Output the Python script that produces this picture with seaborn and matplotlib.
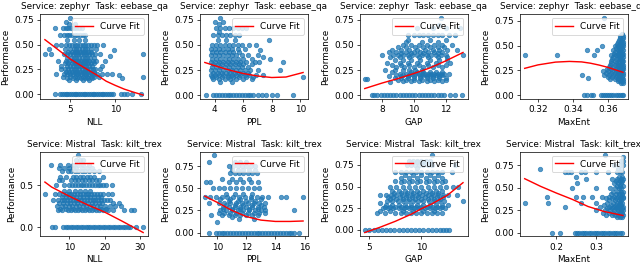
import matplotlib
matplotlib.use("Agg")
import matplotlib.pyplot as plt
from matplotlib.ticker import MaxNLocator
import seaborn as sns
import pandas as pd

services = ["zephyr", "zephyr", "zephyr", "zephyr", "Mistral", "Mistral", "Mistral", "Mistral"]
tasks = ["eebase_qa"] * 4 + ["kilt_trex"] * 4
metrics = ["NLL", "PPL", "GAP", "MaxEnt", "NLL", "PPL", "GAP", "MaxEnt"]

# performance level -> metric values
zephyr_nll = {
    0.0: [3.3, 3.9, 4.1, 4.3, 4.5, 4.7, 4.9, 5.1, 5.3, 5.5, 5.7, 5.9, 6.1, 6.3, 6.5, 6.7, 6.9, 7.1, 7.3, 7.5,
          7.7, 7.9, 8.1, 8.3, 8.5, 8.7, 8.9, 9.1, 9.3, 9.5, 9.8, 10.6, 11.0, 11.3, 11.9, 12.9],
    0.14: [4.9, 5.6, 6.4, 7.1],
    0.16: [4.6, 5.3, 5.8, 6.2, 6.6, 7.0, 7.4, 10.8],
    0.17: [4.2, 5.0, 5.5, 6.0, 6.4, 6.9, 7.3, 7.7, 8.2, 13.1],
    0.19: [10.4],
    0.2: [3.4, 4.3, 4.7, 5.0, 5.3, 5.6, 5.9, 6.2, 6.5, 6.8, 7.1, 7.4, 7.7, 8.0, 8.5, 9.1, 9.6],
    0.22: [4.5, 4.9, 5.2, 5.5, 5.8, 6.1, 6.4, 6.7, 7.0, 7.3, 7.6],
    0.25: [4.0, 4.4, 4.8, 5.1, 5.4, 5.7, 6.0, 6.3, 6.6, 6.9, 7.2, 7.5, 7.8, 8.3],
    0.28: [4.0, 4.6, 5.0, 5.3, 5.6, 5.9, 6.2, 6.5, 6.8, 7.1, 7.4, 8.5],
    0.31: [4.4, 4.8, 5.2, 5.5, 5.8, 6.1, 6.4, 6.7, 7.0, 7.3, 7.6],
    0.33: [3.6, 4.5, 4.9, 5.3, 5.6, 5.9, 6.2, 6.5, 6.8, 7.1, 7.5, 7.9, 8.9],
    0.36: [4.7, 5.1, 5.4, 5.7, 6.0, 6.3, 6.6, 6.9, 7.2, 7.6],
    0.38: [9.4],
    0.4: [2.2, 2.9, 4.3, 4.6, 5.0, 5.3, 5.6, 5.9, 6.2, 6.5, 6.8, 7.1, 7.4, 7.8, 8.3, 13.1],
    0.43: [4.8, 5.2, 5.5, 5.8, 6.1, 6.4, 6.7, 7.0, 7.3],
    0.45: [9.9],
    0.46: [2.6, 4.4, 5.0, 5.4, 5.7, 6.0, 6.3, 6.6, 6.9, 7.3, 7.9],
    0.5: [3.4, 4.0, 4.5, 4.9, 5.2, 5.5, 5.8, 6.1, 6.4, 6.7, 7.0, 7.3, 7.6, 8.0, 8.6],
    0.55: [4.7, 5.4, 6.0, 6.6],
    0.6: [3.9, 4.3, 4.6, 4.9, 5.2, 5.5, 5.8, 6.1, 6.4, 6.7],
    0.67: [3.3, 4.2, 4.5, 4.8, 5.1, 5.4, 5.7, 6.0, 6.3],
    0.71: [4.9, 5.5],
    0.73: [4.5],
    0.77: [5.0],
}
zephyr_ppl = {
    0.0: [3.4, 3.9, 4.1, 4.3, 4.5, 4.7, 4.9, 5.1, 5.3, 5.5, 5.7, 5.9, 6.1, 6.3, 6.5, 6.7, 7.0, 7.3, 7.6,
          8.0, 8.4, 9.5],
    0.13: [4.4, 5.2],
    0.16: [3.9, 4.3, 4.7, 5.1, 5.5, 6.0, 6.6],
    0.18: [3.8, 4.1, 4.5, 4.9, 5.3, 5.7, 6.2, 6.7, 10.2],
    0.2: [3.7, 4.0, 4.3, 4.6, 4.9, 5.2, 5.5, 5.8, 6.1, 6.4, 6.9, 7.4],
    0.22: [3.9, 4.2, 4.5, 4.8, 5.1, 5.4, 5.7, 6.0, 6.3],
    0.25: [3.7, 4.0, 4.3, 4.6, 4.9, 5.2, 5.5, 5.8, 6.1, 6.5, 7.0, 8.6],
    0.28: [3.8, 4.1, 4.4, 4.7, 5.0, 5.3, 5.6, 5.9, 6.3],
    0.31: [3.9, 4.2, 4.5, 4.8, 5.1, 5.4, 5.7, 6.0, 6.6],
    0.33: [3.7, 4.0, 4.3, 4.6, 4.9, 5.2, 5.5, 5.8, 6.2, 6.8, 7.1, 8.8],
    0.36: [3.8, 4.1, 4.4, 4.7, 5.0, 5.3, 5.6, 6.0, 6.6, 7.9],
    0.38: [7.4],
    0.4: [3.7, 4.0, 4.3, 4.6, 4.9, 5.2, 5.5, 5.9, 6.3, 7.0],
    0.43: [3.8, 4.1, 4.4, 4.7, 5.0, 5.3, 5.7],
    0.45: [7.15],
    0.46: [3.7, 4.0, 4.3, 4.6, 4.9, 5.2, 5.6, 6.1],
    0.5: [3.8, 4.1, 4.4, 4.7, 5.0, 5.3, 5.6, 5.9, 6.4, 6.9],
    0.55: [4.2, 4.8, 5.4, 7.8],
    0.6: [3.9, 4.2, 4.5, 4.8, 5.1, 5.4, 5.7],
    0.63: [4.3],
    0.67: [4.1, 4.4, 4.7, 5.0, 5.3, 5.6, 5.9, 6.2],
    0.71: [4.3],
    0.73: [4.0, 4.6],
    0.77: [4.4],
}
zephyr_gap = {
    0.0: [7.35, 7.5, 7.7, 7.9, 8.1, 8.3, 8.5, 8.7, 8.9, 9.1, 9.3, 9.5, 9.7, 9.9, 10.1, 10.3, 10.5, 10.7,
          10.9, 11.1, 11.3, 11.5, 11.7, 11.9, 12.3, 12.6, 13.05],
    0.13: [8.5],
    0.14: [9.3, 9.8, 10.3, 10.8, 11.3, 11.8],
    0.15: [9.0, 9.5, 10.0, 10.5, 11.0, 11.5, 12.0],
    0.16: [6.9, 7.05],
    0.17: [8.8, 9.2, 9.6, 10.0, 10.4, 10.8, 11.2, 11.6, 12.0],
    0.19: [8.4, 9.2, 9.6, 10.0, 10.4, 10.8, 11.2, 11.6],
    0.2: [8.9, 9.3, 9.7, 10.6, 11.0, 11.4, 11.8],
    0.21: [9.1, 9.5, 9.9, 10.1, 10.3, 10.5, 10.7, 10.9, 11.1, 11.3, 11.5, 11.7, 11.9, 12.2],
    0.23: [8.6, 9.8, 10.2, 10.6, 11.0, 11.4, 11.8],
    0.25: [8.2, 8.8, 9.3, 9.7, 10.1, 10.5],
    0.28: [8.9, 9.4, 10.0, 10.6, 11.2, 11.8],
    0.3: [8.6, 9.2, 9.7, 10.3, 10.9, 11.5, 12.0],
    0.32: [8.3, 9.1, 9.6, 10.2, 10.8, 11.4, 12.3],
    0.35: [8.8, 9.3, 9.8, 10.4, 11.0, 11.6, 12.1],
    0.38: [8.5, 9.1, 9.7, 10.3, 10.9, 11.5, 12.1],
    0.4: [8.0, 8.7, 9.0, 9.3, 9.6, 9.9, 10.2, 10.5, 10.8, 11.1, 11.4, 11.7, 12.0, 13.1],
    0.42: [9.2, 9.8, 10.6, 11.5],
    0.43: [8.4, 8.9, 9.5, 10.0, 10.4, 10.9, 11.3, 11.8],
    0.45: [8.6, 9.2, 9.7, 10.2, 10.7, 11.2, 11.6, 12.1, 12.7],
    0.48: [9.0, 9.5, 10.1, 10.6, 11.0, 11.5, 11.9],
    0.5: [9.3, 9.8, 10.3, 10.8, 11.3, 11.8, 12.4],
    0.53: [9.5, 10.5, 11.5],
    0.55: [9.6, 11.0, 12.0],
    0.6: [9.6, 10.0, 10.3, 10.6, 10.9, 11.2, 11.5, 11.8, 12.2, 12.6],
    0.67: [10.2, 11.2, 12.0, 12.9],
    0.7: [11.6],
    0.77: [11.7],
}
zephyr_maxent = {
    0.0: [0.3463, 0.3481, 0.3506, 0.3517, 0.3560, 0.3572, 0.3584, 0.3596, 0.3608, 0.3620, 0.3632,
          0.3644, 0.3656, 0.3668, 0.3680, 0.3686],
    0.12: [0.3675, 0.3686],
    0.14: [0.3655, 0.3670, 0.3684],
    0.16: [0.3610, 0.3640, 0.3660, 0.3675, 0.3686],
    0.17: [0.3488],
    0.18: [0.3600, 0.3625, 0.3648, 0.3666, 0.3680],
    0.2: [0.3449, 0.3578, 0.3605, 0.3630, 0.3652, 0.3670, 0.3684],
    0.22: [0.3590, 0.3615, 0.3640, 0.3660, 0.3676, 0.3686],
    0.24: [0.3570, 0.3600, 0.3625, 0.3648, 0.3666, 0.3681],
    0.26: [0.3595, 0.3620, 0.3645, 0.3663, 0.3678, 0.3686],
    0.28: [0.3605, 0.3632, 0.3655, 0.3672, 0.3685],
    0.3: [0.3610, 0.3638, 0.3660, 0.3676, 0.3686],
    0.32: [0.3620, 0.3645, 0.3665, 0.3680],
    0.34: [0.3615, 0.3640, 0.3662, 0.3678, 0.3686],
    0.36: [0.3625, 0.3650, 0.3668, 0.3682],
    0.38: [0.3630, 0.3655, 0.3672, 0.3686],
    0.4: [0.3124, 0.3308, 0.3520, 0.3620, 0.3645, 0.3665, 0.3680],
    0.42: [0.3635, 0.3658, 0.3675, 0.3686],
    0.44: [0.3640, 0.3662, 0.3678],
    0.46: [0.3481, 0.3535, 0.3630, 0.3655, 0.3672, 0.3686],
    0.48: [0.3645, 0.3666, 0.3682],
    0.5: [0.3565, 0.3640, 0.3660, 0.3676, 0.3686],
    0.52: [0.3650, 0.3670, 0.3684],
    0.54: [0.3655, 0.3675, 0.3686],
    0.56: [0.3662, 0.3680],
    0.58: [0.3668, 0.3684],
    0.6: [0.3672, 0.3686],
    0.62: [0.3680],
    0.78: [0.3575],
}
mistral_nll = {
    0.0: [5.0, 5.9, 8.3, 9.0, 9.7, 10.4, 11.1, 11.8, 12.5, 13.2, 13.9, 14.6, 15.3, 16.0, 16.7, 17.4, 18.1,
          18.8, 19.5, 20.2, 20.9, 21.6, 22.3, 23.0, 23.7, 24.4, 25.1, 25.8, 26.5, 27.2, 29.0, 30.9],
    0.2: [6.9, 8.0, 9.5, 10.5, 11.5, 12.5, 13.5, 14.5, 15.5, 16.5, 17.5, 18.5, 19.5, 21.0, 22.5, 25.5,
          27.5, 28.3],
    0.22: [7.5, 9.0, 11.0, 13.0, 15.0, 17.0, 19.0, 20.5],
    0.25: [6.5, 7.8, 8.8, 9.8, 10.8, 11.8, 12.8, 13.8, 14.8, 15.8, 16.8, 17.8, 18.8, 20.0, 21.5, 23.0, 24.5],
    0.29: [7.0, 8.3, 9.3, 10.3, 11.3, 12.3, 13.3, 14.3, 15.3, 16.3, 17.3, 18.3, 19.3, 22.3, 24.0],
    0.33: [5.5, 6.8, 7.8, 8.6, 9.4, 10.2, 11.0, 11.8, 12.6, 13.4, 14.2, 15.0, 15.8, 16.6, 17.4, 18.2,
           19.0, 19.8, 20.6, 21.5],
    0.36: [8.0, 9.0, 10.0, 11.0, 12.0, 13.0, 14.0, 15.0, 16.0, 17.0, 18.0, 19.0],
    0.4: [3.1, 6.0, 7.2, 8.2, 9.0, 9.8, 10.6, 11.4, 12.2, 13.0, 13.8, 14.6, 15.4, 16.2, 17.0, 17.8, 18.6,
          19.4, 20.9, 22.0],
    0.43: [8.5, 10.0, 11.5, 13.0, 14.5, 16.0],
    0.5: [6.3, 8.5, 10.0, 10.8, 11.6, 12.4, 13.2, 14.0, 14.8, 15.6, 16.4, 17.2, 18.0, 18.8, 19.6, 20.5, 22.0],
    0.57: [7.0, 8.0, 10.5, 11.5, 12.5, 13.5, 14.5, 15.5, 16.5, 17.5, 18.5],
    0.6: [7.5, 9.0, 11.0, 12.0, 13.0, 14.0, 15.0, 16.0, 17.0, 19.5],
    0.67: [8.0, 9.5, 10.5, 11.5, 12.5, 13.5, 14.5, 15.5, 17.0, 18.5],
    0.71: [7.0, 8.5, 10.0, 11.0, 12.0, 13.5, 15.0, 16.5],
    0.75: [4.7, 7.5, 9.5, 11.0, 12.5, 14.0, 15.5],
    0.8: [12.0, 13.0, 14.0],
    0.86: [12.5],
}
mistral_ppl = {
    0.0: [9.45, 9.9, 10.1, 10.3, 10.5, 10.7, 10.9, 11.1, 11.3, 11.5, 11.7, 11.9, 12.1, 12.3, 12.5, 12.7,
          12.9, 13.1, 13.3, 13.5, 13.7, 13.9, 14.1, 14.3, 14.5, 14.7, 14.9, 15.1, 15.3, 15.6],
    0.12: [10.0],
    0.15: [11.5, 12.5],
    0.17: [11.0],
    0.2: [9.6, 10.3, 10.8, 11.2, 11.6, 12.0, 12.4, 12.8],
    0.22: [10.1, 10.5, 10.9, 11.3, 11.7, 12.1, 12.5, 12.9, 13.3],
    0.25: [10.2, 10.6, 11.0, 11.4, 11.8, 12.2, 12.6, 13.0, 13.3, 15.3],
    0.27: [10.4, 11.0, 11.6, 12.2, 12.8],
    0.29: [10.4, 10.8, 11.2, 11.6, 12.0, 12.4, 12.8, 13.2],
    0.31: [10.6, 11.2, 11.8, 12.4, 13.0],
    0.33: [9.45, 10.1, 10.5, 10.9, 11.3, 11.7, 12.1, 12.5, 12.9, 13.3],
    0.36: [10.8, 11.4, 12.0, 12.6],
    0.38: [10.2, 10.9, 11.6, 12.3, 13.0],
    0.4: [9.15, 9.5, 9.9, 10.3, 10.7, 11.1, 11.5, 11.9, 12.3, 12.7, 13.1, 13.5, 14.4, 14.7, 15.9],
    0.43: [10.6, 11.2, 11.8, 12.4],
    0.5: [9.7, 10.1, 10.5, 10.9, 11.3, 11.7, 12.1, 12.5, 12.9],
    0.57: [9.2, 9.5, 10.8, 11.3, 11.8, 12.3, 12.8],
    0.6: [10.3, 11.0, 11.6, 12.2],
    0.67: [10.9, 11.2, 11.5, 11.8, 12.1, 12.4, 12.7],
    0.71: [11.0, 11.4, 11.8, 12.2, 12.6],
    0.75: [10.8, 11.1, 11.4, 11.7, 12.0, 12.3, 12.6],
    0.8: [9.45, 11.2, 11.6, 12.0],
    0.87: [9.8],
}
mistral_gap = {
    0.0: [4.55, 5.0, 5.4, 5.8, 6.2, 6.6, 7.0, 7.4, 7.8, 8.2, 8.6, 9.0, 9.4, 9.8, 10.2, 10.6, 11.0, 11.4,
          11.8, 12.1, 12.4, 12.7],
    0.2: [5.75, 6.5, 7.5, 8.0, 8.5, 9.0, 9.5, 10.0, 10.5, 11.0, 11.5, 12.0],
    0.22: [6.0, 7.0, 8.2, 9.2, 10.2, 11.2],
    0.25: [6.3, 6.8, 7.3, 7.8, 8.3, 8.8, 9.3, 9.8, 10.3, 10.8, 11.3, 11.8, 12.3],
    0.27: [6.5, 7.0, 7.5, 8.0, 8.5, 9.0, 9.5, 10.0, 10.5, 11.0, 11.5, 12.0],
    0.29: [6.6, 7.2, 7.8, 8.4, 9.0, 9.6, 10.2, 10.8, 11.4, 12.0, 12.6],
    0.31: [5.97],
    0.33: [6.7, 7.2, 7.7, 8.2, 8.7, 9.2, 9.7, 10.2, 10.7, 11.2, 11.7, 12.2, 14.0],
    0.36: [7.0, 7.6, 8.2, 8.8, 9.4, 10.0, 10.6, 11.2, 11.8],
    0.38: [6.8, 7.3, 7.9, 8.5, 9.1, 9.7, 10.3, 10.9, 11.5, 12.1],
    0.4: [5.97, 6.6, 7.1, 7.6, 8.1, 8.6, 9.1, 9.6, 10.1, 10.6, 11.1, 11.6, 12.1, 12.6, 13.4],
    0.43: [7.4, 8.0, 8.6, 9.2, 9.8, 10.4, 11.0, 11.6],
    0.45: [7.2, 7.8, 8.4, 9.0, 9.6, 10.2, 10.8, 11.4, 12.0],
    0.5: [7.0, 7.6, 8.2, 8.8, 9.4, 10.0, 10.6, 11.2, 11.8, 12.4, 13.0, 13.5],
    0.55: [8.0, 8.8, 9.6, 10.4, 11.2, 12.0],
    0.57: [7.5, 8.3, 9.1, 9.9, 10.7, 11.5, 12.3],
    0.6: [8.0, 8.8, 9.6, 10.4, 11.2, 12.0],
    0.63: [8.4, 9.2, 10.0, 10.8, 11.6],
    0.67: [7.5, 8.0, 8.5, 9.0, 9.5, 10.0, 10.5, 11.0, 11.5, 12.0, 12.9],
    0.71: [9.6],
    0.75: [8.6, 9.0, 9.4, 9.8, 10.2, 10.6, 11.0, 13.2],
    0.78: [9.0, 9.6, 10.2],
    0.8: [8.8, 9.2, 9.6, 10.0, 10.4, 10.8],
    0.86: [11.0],
}
mistral_maxent = {
    0.0: [0.188, 0.210, 0.246, 0.252, 0.258, 0.264, 0.270, 0.276, 0.282, 0.288, 0.294, 0.300, 0.306,
          0.312, 0.318, 0.324, 0.330, 0.336, 0.342, 0.348, 0.354, 0.360, 0.366],
    0.17: [0.352, 0.360, 0.366],
    0.2: [0.325, 0.340, 0.348, 0.356, 0.362, 0.367],
    0.22: [0.318, 0.332, 0.344, 0.353, 0.360, 0.366],
    0.25: [0.300, 0.322, 0.336, 0.346, 0.355, 0.362, 0.367],
    0.27: [0.328, 0.341, 0.351, 0.359, 0.365],
    0.29: [0.222, 0.310, 0.332, 0.345, 0.354, 0.361, 0.367],
    0.31: [0.320, 0.338, 0.350, 0.358, 0.364],
    0.33: [0.120, 0.180, 0.262, 0.300, 0.328, 0.342, 0.352, 0.360, 0.366],
    0.36: [0.334, 0.347, 0.357, 0.364],
    0.38: [0.326, 0.340, 0.351, 0.360, 0.367],
    0.4: [0.176, 0.250, 0.268, 0.290, 0.315, 0.332, 0.345, 0.355, 0.362, 0.367],
    0.43: [0.338, 0.350, 0.359, 0.366],
    0.45: [0.344, 0.355, 0.362, 0.367],
    0.5: [0.240, 0.300, 0.335, 0.348, 0.357, 0.364],
    0.52: [0.352, 0.361, 0.367],
    0.55: [0.252, 0.345, 0.356, 0.363],
    0.57: [0.350, 0.360, 0.366],
    0.6: [0.276, 0.340, 0.354, 0.362, 0.367],
    0.62: [0.250, 0.358, 0.365],
    0.67: [0.222, 0.230, 0.238, 0.262, 0.272, 0.300, 0.330, 0.352, 0.360, 0.366],
    0.71: [0.158, 0.356, 0.363],
    0.75: [0.345, 0.360, 0.367],
    0.8: [0.362, 0.367],
    0.84: [0.367],
    0.86: [0.324],
}

# fitted curves
zephyr_nll_fit_x = [2.2, 3.5, 5.0, 6.5, 8.0, 9.0, 10.0, 11.0, 12.0, 13.1]
zephyr_nll_fit_y = [0.55, 0.46, 0.355, 0.27, 0.19, 0.13, 0.088, 0.05, 0.02, -0.01]
zephyr_ppl_fit_x = [3.3, 4.0, 5.0, 6.0, 7.0, 8.0, 9.0, 10.2]
zephyr_ppl_fit_y = [0.325, 0.293, 0.25, 0.215, 0.19, 0.175, 0.18, 0.225]
zephyr_gap_fit_x = [6.9, 8.0, 9.0, 10.0, 11.0, 12.0, 13.1]
zephyr_gap_fit_y = [0.065, 0.12, 0.165, 0.215, 0.27, 0.34, 0.425]
zephyr_maxent_fit_x = [0.3124, 0.32, 0.33, 0.338, 0.345, 0.35, 0.355, 0.36, 0.3686]
zephyr_maxent_fit_y = [0.27, 0.305, 0.333, 0.34, 0.335, 0.322, 0.303, 0.28, 0.23]
mistral_nll_fit_x = [3.1, 5.0, 10.0, 15.0, 20.0, 25.0, 30.9]
mistral_nll_fit_y = [0.54, 0.48, 0.37, 0.27, 0.18, 0.07, -0.065]
mistral_ppl_fit_x = [9.15, 10.0, 11.0, 12.0, 13.0, 14.0, 15.0, 15.9]
mistral_ppl_fit_y = [0.41, 0.34, 0.25, 0.18, 0.14, 0.125, 0.125, 0.13]
mistral_gap_fit_x = [4.55, 6.0, 7.5, 9.0, 10.0, 11.0, 12.5, 14.0]
mistral_gap_fit_y = [-0.03, 0.03, 0.1, 0.18, 0.245, 0.3, 0.4, 0.545]
mistral_maxent_fit_x = [0.12, 0.16, 0.2, 0.24, 0.28, 0.32, 0.368]
mistral_maxent_fit_y = [0.60, 0.515, 0.44, 0.37, 0.29, 0.235, 0.19]

scatter_sets = [zephyr_nll, zephyr_ppl, zephyr_gap, zephyr_maxent,
                mistral_nll, mistral_ppl, mistral_gap, mistral_maxent]
fits = [(zephyr_nll_fit_x, zephyr_nll_fit_y), (zephyr_ppl_fit_x, zephyr_ppl_fit_y),
        (zephyr_gap_fit_x, zephyr_gap_fit_y), (zephyr_maxent_fit_x, zephyr_maxent_fit_y),
        (mistral_nll_fit_x, mistral_nll_fit_y), (mistral_ppl_fit_x, mistral_ppl_fit_y),
        (mistral_gap_fit_x, mistral_gap_fit_y), (mistral_maxent_fit_x, mistral_maxent_fit_y)]

fig, axes = plt.subplots(2, 4, figsize=(10, 4.140625), dpi=64)
plt.subplots_adjust(left=0.0625, right=0.981, top=0.947, bottom=0.108, wspace=0.48, hspace=0.62)

for ax, pts, (fx, fy), svc, task, metric in zip(axes.flat, scatter_sets, fits, services, tasks, metrics):
    df = pd.DataFrame([(x, y) for y, xs in pts.items() for x in xs], columns=[metric, "Performance"])
    sns.scatterplot(data=df, x=metric, y="Performance", ax=ax, s=24, color="#1f77b4",
                    alpha=0.75, edgecolor="#1f77b4", linewidth=1.0)
    sns.lineplot(x=fx, y=fy, ax=ax, color="red", linewidth=1.6, label="Curve Fit")
    ax.set_title(f"Service: {svc}  Task: {task}", fontsize=10)
    ax.xaxis.set_major_locator(MaxNLocator(nbins=4, steps=[1, 2, 2.5, 5, 10]))
    ax.yaxis.set_major_locator(MaxNLocator(nbins=4, steps=[1, 2, 2.5, 5, 10]))
    ax.legend(loc="upper right")

plt.savefig("out.png", dpi=64)
